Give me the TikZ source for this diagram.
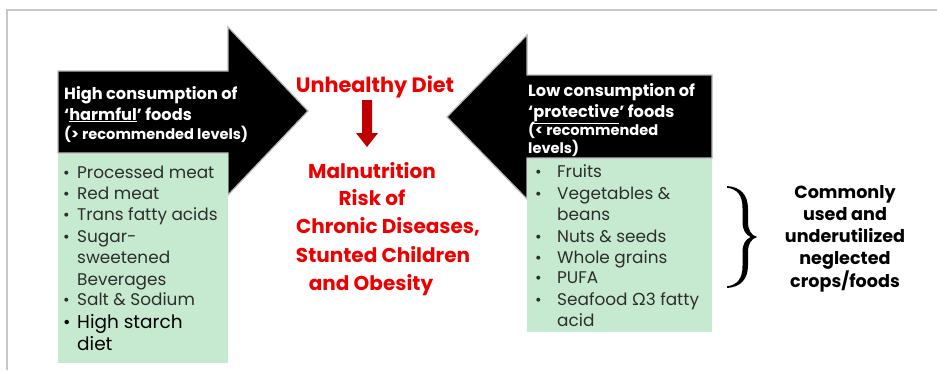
\documentclass[tikz,border=0pt]{standalone}
\usepackage{fontspec}
\setmainfont{Poppins}
\newfontfamily\greekfont{Lato}
\definecolor{framegray}{RGB}{200,200,200}
\definecolor{listgreen}{RGB}{198,234,208}
\definecolor{alertred}{RGB}{236,0,0}
\definecolor{darkred}{RGB}{192,0,0}
\definecolor{listtext}{RGB}{45,45,45}
\tikzset{
  blockarrow/.style={fill=black, draw=gray!55, line width=1.2pt, line join=miter},
  listbox/.style={fill=listgreen},
  hdr/.style={text=white, font=\bfseries\fontsize{16.2}{21}\selectfont, inner sep=0pt, align=left},
  hdrsmall/.style={text=white, font=\bfseries\fontsize{14.6}{19}\selectfont, inner sep=0pt, align=left},
  listitem/.style={text=listtext, font=\fontsize{16.9}{21.5}\selectfont, inner sep=0pt, anchor=base west},
  bullet/.style={text=listtext, font=\fontsize{16}{21.5}\selectfont, inner sep=0pt, anchor=base west},
  redtitle/.style={text=alertred, font=\bfseries\fontsize{20.8}{22}\selectfont, inner sep=0pt},
  redbody/.style={text=alertred, font=\bfseries\fontsize{20}{28.5}\selectfont, inner sep=0pt, align=center},
  sidenote/.style={text=black, font=\bfseries\fontsize{17.6}{22.5}\selectfont, inner sep=0pt, align=center}
}
\begin{document}
\begin{tikzpicture}[x=1pt,y=-1pt]
\useasboundingbox (0,0) rectangle (937,370);
\fill[white] (0,0) rectangle (937,370);
% thin frame along the top and left edges
\draw[framegray, line width=1.5pt] (7,370) |- (937,10);

% left block arrow with its list panel
\draw[blockarrow] (58,71) -- (228,71) -- (228,27) -- (308,111) -- (228,195) -- (228,153) -- (58,153) -- cycle;
\fill[listbox] (58,153.5) rectangle (228,363);

% right block arrow with its list panel
\draw[blockarrow] (712,75) -- (527,75) -- (527,35) -- (447,117) -- (527,199) -- (527,158) -- (712,158) -- cycle;
\fill[listbox] (527,158.5) rectangle (712,332);

% headers inside the arrows
\node[hdr, anchor=base west] (harmA) at (64,99) {High consumption of};
\node[hdr, anchor=base west] (harmB) at (64,120) {‘\underline{harmful}’ foods};
\node[hdrsmall, anchor=base west] (harmC) at (64,139) {(> recommended levels)};

\node[hdr, anchor=base west] (protA) at (528,96) {Low consumption of};
\node[hdr, anchor=base west] (protB) at (528,117) {‘\underline{protective}’ foods};
\node[hdrsmall, anchor=base west] (protC) at (528,135) {(< recommended};
\node[hdrsmall, anchor=base west] (protD) at (528,153) {levels)};

% harmful foods list
\foreach \y [count=\i] in {178,199,220,242,305}{
  \node[bullet] (hb\i) at (63,\y) {•};
}
\node[listitem] (h1) at (77,178) {Processed meat};
\node[listitem] (h2) at (77,199) {Red meat};
\node[listitem] (h3) at (77,220) {Trans fatty acids};
\node[listitem] (h4) at (77,242) {Sugar-};
\node[listitem] (h5) at (77,263) {sweetened};
\node[listitem] (h6) at (77,285) {Beverages};
\node[listitem] (h7) at (77,305) {Salt \& Sodium};
\node[bullet, text=black, font=\fontsize{18}{22}\selectfont] (hb6) at (63,328) {•};
\node[listitem, text=black, font=\fontsize{18.5}{22}\selectfont] (h8) at (77,328) {High starch};
\node[listitem, text=black, font=\fontsize{18.5}{22}\selectfont] (h9) at (77,350) {diet};

% protective foods list
\foreach \y [count=\i] in {177,199,242,263,283,305}{
  \node[bullet] (pb\i) at (535,\y) {•};
}
\node[listitem] (p1) at (557,177) {Fruits};
\node[listitem] (p2) at (557,199) {Vegetables \&};
\node[listitem] (p3) at (557,220) {beans};
\node[listitem] (p4) at (557,242) {Nuts \& seeds};
\node[listitem] (p5) at (557,263) {Whole grains};
\node[listitem] (p6) at (557,283) {PUFA};
\node[listitem] (p7) at (557,305) {Seafood {\greekfont Ω}3 fatty};
\node[listitem] (p8) at (557,326) {acid};

% centre: cause and consequences
\node[redtitle, anchor=base] (diet) at (375,92) {Unhealthy Diet};
\node[redbody, anchor=base] (mal) at (372,178) {Malnutrition};
\node[redbody, anchor=base] (risk) at (372,205) {Risk of};
\node[redbody, anchor=base] (chron) at (388,233) {Chronic Diseases,};
\node[redbody, anchor=base] (stunt) at (383,262) {Stunted Children};
\node[redbody, anchor=base] (obes) at (371,290) {and Obesity};
\fill[darkred] (362,100) -- (372,100) -- (372,133) -- (378,133) -- (367,147) -- (356,133) -- (362,133) -- cycle;

% curly brace grouping the protective list
\fill[black]
  (727,186) .. controls (741,187) and (748,195) .. (748,209)
  -- (748,222) .. controls (748,230) and (751,235) .. (757,237)
  .. controls (751,239) and (748,244) .. (748,252)
  -- (748,265) .. controls (748,279) and (741,287) .. (727,288)
  -- (727,286.3) .. controls (737,285) and (742.5,279) .. (742.5,266)
  -- (742.5,252) .. controls (742.5,244) and (745.5,239.5) .. (750.5,237)
  .. controls (745.5,234.5) and (742.5,230) .. (742.5,222)
  -- (742.5,208) .. controls (742.5,195) and (737,189) .. (727,187.7) -- cycle;

\node[sidenote, anchor=base] (cm1) at (845,198) {Commonly};
\node[sidenote, anchor=base] (cm2) at (845,220) {used and};
\node[sidenote, anchor=base] (cm3) at (845,242) {underutilized};
\node[sidenote, anchor=base] (cm4) at (845,264) {neglected};
\node[sidenote, anchor=base] (cm5) at (845,287) {crops/foods};
\end{tikzpicture}
\end{document}
